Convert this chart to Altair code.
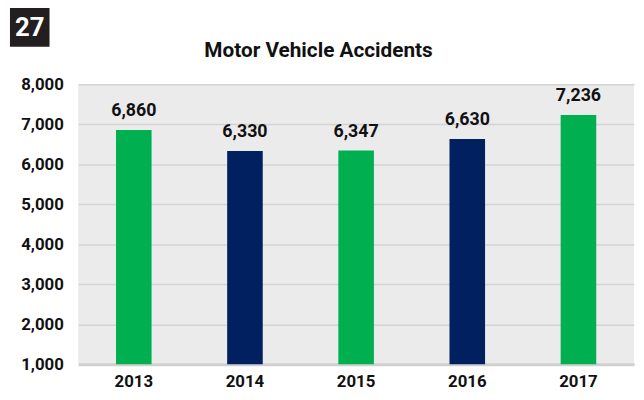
import altair as alt
import pandas as pd

years = ["2013", "2014", "2015", "2016", "2017"]
accidents = [6860, 6330, 6347, 6630, 7236]
colors = ["#00B050", "#002060", "#00B050", "#002060", "#00B050"]
title_text = "Motor Vehicle Accidents"
badge_label = "27"

FONT = "Roboto, sans-serif"

df = pd.DataFrame({"year": years, "value": accidents, "color": colors})

W, H = 562, 283

base = alt.Chart(df)

bars = base.mark_bar(clip=True).encode(
    x=alt.X("year:N", sort=years,
            scale=alt.Scale(paddingInner=0.68, paddingOuter=0.34),
            axis=alt.Axis(title=None, labelAngle=0, labelFont=FONT, labelFontSize=17,
                          labelFontWeight="bold", labelColor="#111111", labelPadding=10,
                          ticks=False, domainColor="#d0d0d0", domainWidth=3, grid=False)),
    y=alt.Y("value:Q", scale=alt.Scale(domain=[1000, 8000], nice=False, zero=False),
            axis=alt.Axis(title=None, values=[1000, 2000, 3000, 4000, 5000, 6000, 7000, 8000],
                          format=",.0f", labelFont=FONT, labelFontSize=17, labelFontWeight="bold",
                          labelColor="#111111", labelPadding=15, ticks=False, domain=False,
                          gridColor="#d4d4d4", gridWidth=1.5)),
    color=alt.Color("color:N", scale=None),
)

labels = base.mark_text(font=FONT, fontSize=18, fontWeight="bold", color="#111111",
                        baseline="alphabetic", dy=-14).encode(
    x=alt.X("year:N", sort=years),
    y=alt.Y("value:Q"),
    text=alt.Text("value:Q", format=",.0f"),
)

deco = pd.DataFrame({"t": [badge_label], "title": [title_text]})

badge = alt.Chart(deco).mark_rect(color="#231f20").encode(
    x=alt.value(-69), x2=alt.value(-29), y=alt.value(-78), y2=alt.value(-38)
)
badge_text = alt.Chart(deco).mark_text(
    font=FONT, fontSize=26, fontWeight="bold", color="white", baseline="middle", align="center"
).encode(x=alt.value(-49), y=alt.value(-57), text="t:N")

title = alt.Chart(deco).mark_text(
    font=FONT, fontSize=21, fontWeight="bold", color="#111111", baseline="alphabetic", align="center"
).encode(x=alt.value(243), y=alt.value(-28), text="title:N")

chart = alt.layer(bars, labels, badge, badge_text, title).properties(
    width=W, height=H,
    background="white",
    padding={"left": 71, "top": 75, "right": 2, "bottom": 34},
    autosize=alt.AutoSizeParams(type="none"),
).configure_view(fill="#ebebeb", stroke=None)

chart.save("out.html", embed_options={"renderer": "svg", "actions": False})
